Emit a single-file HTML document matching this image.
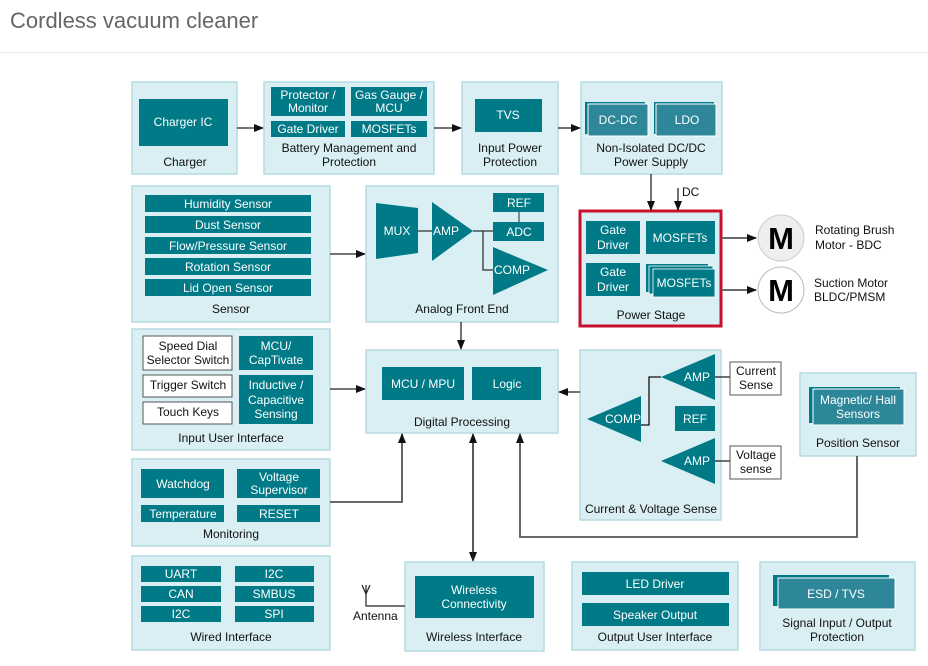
<!DOCTYPE html>
<html><head><meta charset="utf-8"><style>
html,body{margin:0;padding:0;background:#fff;}
svg{display:block;}
text{font-family:"Liberation Sans",Arial,sans-serif;font-size:12px;}
.p{fill:#d9eff3;stroke:#b5dbe2;stroke-width:1.5;}
.d{fill:#007a87;}
.s{fill:#2e8799;stroke:#fff;stroke-width:1;}
.w{fill:#fff;stroke:#555;stroke-width:1;}
.t{fill:#fff;text-anchor:middle;}
.k{fill:#111;text-anchor:middle;}
.l{stroke:#222;stroke-width:1.3;fill:none;}
.g{stroke:#555;stroke-width:1.8;fill:none;}
</style></head><body>
<svg width="928" height="666" viewBox="0 0 928 666" xmlns="http://www.w3.org/2000/svg">
<defs>
<marker id="a" markerWidth="10" markerHeight="8" refX="9" refY="4" orient="auto" markerUnits="userSpaceOnUse"><path d="M0,0 L10,4 L0,8 z" fill="#111"/></marker>
</defs>
<text x="10" y="28" style="font-size:22px;fill:#666;">Cordless vacuum cleaner</text>
<line x1="0" y1="52.5" x2="928" y2="52.5" stroke="#e6e6e6" stroke-width="1"/>

<!-- Charger -->
<rect class="p" x="132" y="82" width="105" height="92"/>
<rect class="d" x="139" y="99" width="89" height="47"/>
<text class="t" x="183" y="126">Charger IC</text>
<text class="k" x="185" y="166">Charger</text>

<!-- Battery -->
<rect class="p" x="264" y="82" width="170" height="92"/>
<rect class="d" x="271" y="87" width="74" height="29"/>
<text class="t" x="308" y="99">Protector /</text><text class="t" x="308" y="112">Monitor</text>
<rect class="d" x="351" y="87" width="76" height="29"/>
<text class="t" x="389" y="99">Gas Gauge /</text><text class="t" x="389" y="112">MCU</text>
<rect class="d" x="271" y="121" width="74" height="16"/>
<text class="t" x="308" y="133">Gate Driver</text>
<rect class="d" x="351" y="121" width="76" height="16"/>
<text class="t" x="389" y="133">MOSFETs</text>
<text class="k" x="349" y="152">Battery Management and</text>
<text class="k" x="349" y="166">Protection</text>

<!-- Input power -->
<rect class="p" x="462" y="82" width="96" height="92"/>
<rect class="d" x="475" y="99" width="67" height="33"/>
<text class="t" x="508" y="119">TVS</text>
<text class="k" x="510" y="152">Input Power</text>
<text class="k" x="510" y="166">Protection</text>

<!-- Non-isolated -->
<rect class="p" x="581" y="82" width="141" height="92"/>
<rect class="d" x="585" y="102" width="60" height="32"/>
<rect class="s" x="588" y="104" width="60" height="32"/>
<text class="t" x="618" y="124">DC-DC</text>
<rect class="d" x="654" y="102" width="60" height="32"/>
<rect class="s" x="656" y="104" width="60" height="32"/>
<text class="t" x="687" y="124">LDO</text>
<text class="k" x="651" y="152">Non-Isolated DC/DC</text>
<text class="k" x="651" y="166">Power Supply</text>

<line class="l" x1="237" y1="128" x2="263" y2="128" marker-end="url(#a)"/>
<line class="l" x1="434" y1="128" x2="461" y2="128" marker-end="url(#a)"/>
<line class="l" x1="558" y1="128" x2="580" y2="128" marker-end="url(#a)"/>

<!-- Sensor -->
<rect class="p" x="132" y="186" width="198" height="136"/>
<rect class="d" x="145" y="195" width="166" height="17"/><text class="t" x="228" y="208">Humidity Sensor</text>
<rect class="d" x="145" y="216" width="166" height="17"/><text class="t" x="228" y="229">Dust Sensor</text>
<rect class="d" x="145" y="237" width="166" height="17"/><text class="t" x="228" y="250">Flow/Pressure Sensor</text>
<rect class="d" x="145" y="258" width="166" height="17"/><text class="t" x="228" y="271">Rotation Sensor</text>
<rect class="d" x="145" y="279" width="166" height="17"/><text class="t" x="228" y="292">Lid Open Sensor</text>
<text class="k" x="231" y="313">Sensor</text>
<line class="l" x1="330" y1="254" x2="365" y2="254" marker-end="url(#a)"/>

<!-- AFE -->
<rect class="p" x="366" y="186" width="192" height="136"/>
<path class="d" d="M376,203 L418,208 L418,253 L376,259 z"/>
<text class="t" x="397" y="235">MUX</text>
<path class="d" d="M432,202 L473,231 L432,261 z"/>
<text class="t" x="446" y="235">AMP</text>
<rect class="d" x="493" y="193" width="51" height="19"/><text class="t" x="519" y="207">REF</text>
<line x1="519" y1="212" x2="519" y2="222" stroke="#555" stroke-width="1.3"/>
<rect class="d" x="493" y="222" width="51" height="19"/><text class="t" x="519" y="236">ADC</text>
<path class="d" d="M493,247 L548,270 L493,295 z"/>
<text class="t" x="512" y="274">COMP</text>
<path d="M418,231 H432 M473,231 H493 M483,231 V270 H493" stroke="#333" stroke-width="1.3" fill="none"/>
<text class="k" x="462" y="313">Analog Front End</text>

<!-- Power stage -->
<rect x="580" y="211" width="141" height="115" fill="#d9eff3" stroke="#c8102e" stroke-width="3"/>
<rect class="d" x="586" y="221" width="54" height="33"/>
<text class="t" x="613" y="234">Gate</text><text class="t" x="613" y="249">Driver</text>
<rect class="d" x="646" y="221" width="69" height="33"/>
<text class="t" x="680" y="242">MOSFETs</text>
<rect class="d" x="586" y="263" width="54" height="33"/>
<text class="t" x="613" y="276">Gate</text><text class="t" x="613" y="291">Driver</text>
<rect class="d" x="646" y="264" width="62" height="28"/>
<rect class="d" x="649" y="266" width="64" height="28" stroke="#fff" stroke-width="0.8"/>
<rect class="d" x="653" y="269" width="62" height="28" stroke="#fff" stroke-width="0.8"/>
<text class="t" x="684" y="287">MOSFETs</text>
<text class="k" x="651" y="319">Power Stage</text>
<line class="l" x1="651" y1="174" x2="651" y2="210" marker-end="url(#a)"/>
<line class="l" x1="678" y1="188" x2="678" y2="210" marker-end="url(#a)"/>
<text x="682" y="196" style="fill:#111">DC</text>

<!-- Motors -->
<line class="g" x1="721" y1="238" x2="756" y2="238" stroke="#333" marker-end="url(#a)"/>
<line class="g" x1="721" y1="290" x2="756" y2="290" stroke="#333" marker-end="url(#a)"/>
<circle cx="781" cy="238" r="23" fill="#eee" stroke="#ccc"/>
<circle cx="781" cy="290" r="23" fill="#fff" stroke="#bbb"/>
<text x="781" y="249" text-anchor="middle" style="font-size:31px;font-weight:bold;fill:#000">M</text>
<text x="781" y="301" text-anchor="middle" style="font-size:31px;font-weight:bold;fill:#000">M</text>
<text x="815" y="234" style="fill:#111">Rotating Brush</text>
<text x="815" y="249" style="fill:#111">Motor - BDC</text>
<text x="814" y="287" style="fill:#111">Suction Motor</text>
<text x="814" y="301" style="fill:#111">BLDC/PMSM</text>

<!-- Input UI -->
<rect class="p" x="132" y="329" width="198" height="121"/>
<rect class="w" x="143" y="336" width="89" height="34"/>
<text class="k" x="188" y="350">Speed Dial</text><text class="k" x="188" y="364">Selector Switch</text>
<rect class="w" x="143" y="375" width="89" height="22"/><text class="k" x="188" y="389">Trigger Switch</text>
<rect class="w" x="143" y="402" width="89" height="22"/><text class="k" x="188" y="416">Touch Keys</text>
<rect class="d" x="239" y="336" width="74" height="34"/>
<text class="t" x="276" y="350">MCU/</text><text class="t" x="276" y="364">CapTivate</text>
<rect class="d" x="239" y="375" width="74" height="49"/>
<text class="t" x="276" y="389">Inductive /</text><text class="t" x="276" y="404">Capacitive</text><text class="t" x="276" y="418">Sensing</text>
<text class="k" x="231" y="442">Input User Interface</text>
<line class="l" x1="330" y1="389" x2="365" y2="389" marker-end="url(#a)"/>

<!-- Digital Processing -->
<rect class="p" x="366" y="350" width="192" height="83"/>
<rect class="d" x="382" y="367" width="82" height="33"/><text class="t" x="423" y="388">MCU / MPU</text>
<rect class="d" x="472" y="367" width="69" height="33"/><text class="t" x="507" y="388">Logic</text>
<text class="k" x="462" y="426">Digital Processing</text>
<line class="l" x1="461" y1="322" x2="461" y2="349" marker-end="url(#a)"/>

<!-- Monitoring -->
<rect class="p" x="132" y="459" width="198" height="87"/>
<rect class="d" x="141" y="469" width="83" height="29"/><text class="t" x="183" y="488">Watchdog</text>
<rect class="d" x="237" y="469" width="83" height="29"/>
<text class="t" x="279" y="481">Voltage</text><text class="t" x="279" y="494">Supervisor</text>
<rect class="d" x="141" y="505" width="83" height="17"/><text class="t" x="183" y="518">Temperature</text>
<rect class="d" x="237" y="505" width="83" height="17"/><text class="t" x="279" y="518">RESET</text>
<text class="k" x="231" y="538">Monitoring</text>
<path class="g" d="M330,502 H402 V434" marker-end="url(#a)"/>

<!-- Current & Voltage -->
<rect class="p" x="580" y="350" width="141" height="170"/>
<path class="d" d="M661,377 L715,354 L715,400 z"/><text class="t" x="697" y="381">AMP</text>
<path class="d" d="M587,419 L641,396 L641,442 z"/><text class="t" x="623" y="423">COMP</text>
<path d="M641,425 H649 V377 H661" stroke="#111" stroke-width="1.3" fill="none"/>
<rect class="d" x="675" y="406" width="40" height="25"/><text class="t" x="695" y="423">REF</text>
<path class="d" d="M661,461 L715,438 L715,484 z"/><text class="t" x="697" y="465">AMP</text>
<line class="l" x1="715" y1="377" x2="730" y2="377"/>
<line class="l" x1="715" y1="461" x2="730" y2="461"/>
<rect class="w" x="730" y="362" width="51" height="33"/>
<text class="k" x="756" y="375">Current</text><text class="k" x="756" y="389">Sense</text>
<rect class="w" x="730" y="446" width="51" height="33"/>
<text class="k" x="756" y="459">Voltage</text><text class="k" x="756" y="473">sense</text>
<text class="k" x="651" y="513">Current &amp; Voltage Sense</text>
<line class="l" x1="580" y1="392" x2="559" y2="392" marker-end="url(#a)"/>

<!-- Position -->
<rect class="p" x="800" y="373" width="116" height="83"/>
<rect class="d" x="809" y="387" width="91" height="36"/>
<rect class="s" x="813" y="389" width="91" height="36"/>
<text class="t" x="858" y="404">Magnetic/ Hall</text><text class="t" x="858" y="418">Sensors</text>
<text class="k" x="858" y="447">Position Sensor</text>
<path class="g" d="M857,456 V537 H520 V434" marker-end="url(#a)"/>

<!-- double arrow -->
<line class="l" x1="473" y1="437" x2="473" y2="561" marker-end="url(#a)"/>
<line class="l" x1="473" y1="560" x2="473" y2="434" marker-end="url(#a)"/>

<!-- Wired -->
<rect class="p" x="132" y="556" width="198" height="94"/>
<rect class="d" x="141" y="566" width="80" height="16"/><text class="t" x="181" y="578">UART</text>
<rect class="d" x="235" y="566" width="79" height="16"/><text class="t" x="274" y="578">I2C</text>
<rect class="d" x="141" y="586" width="80" height="16"/><text class="t" x="181" y="598">CAN</text>
<rect class="d" x="235" y="586" width="79" height="16"/><text class="t" x="274" y="598">SMBUS</text>
<rect class="d" x="141" y="606" width="80" height="16"/><text class="t" x="181" y="618">I2C</text>
<rect class="d" x="235" y="606" width="79" height="16"/><text class="t" x="274" y="618">SPI</text>
<text class="k" x="231" y="641">Wired Interface</text>

<!-- Wireless -->
<rect class="p" x="405" y="562" width="139" height="89"/>
<rect class="d" x="415" y="576" width="119" height="42"/>
<text class="t" x="474" y="594">Wireless</text><text class="t" x="474" y="608">Connectivity</text>
<text class="k" x="474" y="641">Wireless Interface</text>
<path d="M366,585 V606 H405 M362,585 L366,594 L370,585" stroke="#222" stroke-width="1.2" fill="none"/>
<text x="353" y="620" style="fill:#111">Antenna</text>

<!-- Output UI -->
<rect class="p" x="572" y="562" width="166" height="88"/>
<rect class="d" x="582" y="572" width="147" height="23"/><text class="t" x="655" y="588">LED Driver</text>
<rect class="d" x="582" y="603" width="147" height="23"/><text class="t" x="655" y="619">Speaker Output</text>
<text class="k" x="655" y="641">Output User Interface</text>

<!-- Signal -->
<rect class="p" x="760" y="562" width="155" height="88"/>
<rect class="d" x="773" y="575" width="116" height="31"/>
<rect class="s" x="778" y="578" width="117" height="31"/>
<text class="t" x="836" y="598">ESD / TVS</text>
<text class="k" x="837" y="627">Signal Input / Output</text>
<text class="k" x="837" y="641">Protection</text>
</svg>
</body></html>
